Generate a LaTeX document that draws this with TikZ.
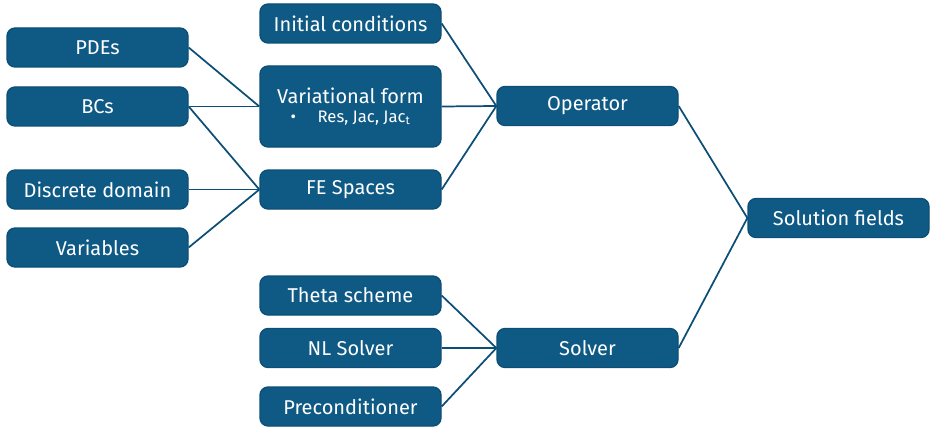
\documentclass[tikz,border=0pt]{standalone}
\usepackage{fontspec}
\setmainfont{Fira Sans}
\definecolor{boxblue}{HTML}{0F5A85}
\definecolor{edgeblue}{HTML}{0C4E76}
\tikzset{
  blk/.style={draw=edgeblue, line width=1pt, fill=boxblue, text=white,
    rounded corners=6pt, minimum width=135.75pt, minimum height=29.25pt,
    inner sep=2pt, font=\fontsize{15}{16}\selectfont, align=center},
  link/.style={draw=edgeblue, line width=1.3pt}
}

\begin{document}
\begin{tikzpicture}[x=0.75pt,y=-0.75pt]
\useasboundingbox (0,0) rectangle (937,431);
% left column
\node[blk] (pde)  at (97.5,47.5)  {PDEs};
\node[blk] (bc)   at (97.5,106.5) {BCs};
\node[blk] (dom)  at (97.5,189.5) {Discrete domain};
\node[blk] (var)  at (97.5,247.5) {Variables};
% middle column
\node[blk] (ic)   at (350.5,23.5) {Initial conditions};
\node[blk, minimum height=60.75pt] (vf) at (350.5,106.5)
  {Variational form\\[-2pt]{\fontsize{12.5}{14}\selectfont\textbullet\hspace{1.3em}Res, Jac, Jac\textsubscript{t}}};
\node[blk] (fe)   at (350.5,189.5) {FE Spaces};
\node[blk] (th)   at (350.5,295.5) {Theta scheme};
\node[blk] (nl)   at (350.5,348)   {NL Solver};
\node[blk] (pc)   at (350.5,406.5) {Preconditioner};
% right
\node[blk] (op)   at (587.5,106)   {Operator};
\node[blk] (sv)   at (587.5,348)   {Solver};
\node[blk] (sol)  at (838.5,218)   {Solution fields};

\draw[link] (pde.east) -- (vf.west);
\draw[link] (bc.east) -- (vf.west);
\draw[link] (bc.east) -- (fe.west);
\draw[link] (dom.east) -- (fe.west);
\draw[link] (var.east) -- (fe.west);
\draw[link] (ic.east) -- (op.west);
\draw[link] (vf.east) -- (op.west);
\draw[link] (fe.east) -- (op.west);
\draw[link] (th.east) -- (sv.west);
\draw[link] (nl.east) -- (sv.west);
\draw[link] (pc.east) -- (sv.west);
\draw[link] (op.east) -- (sol.west);
\draw[link] (sv.east) -- (sol.west);
\end{tikzpicture}
\end{document}
